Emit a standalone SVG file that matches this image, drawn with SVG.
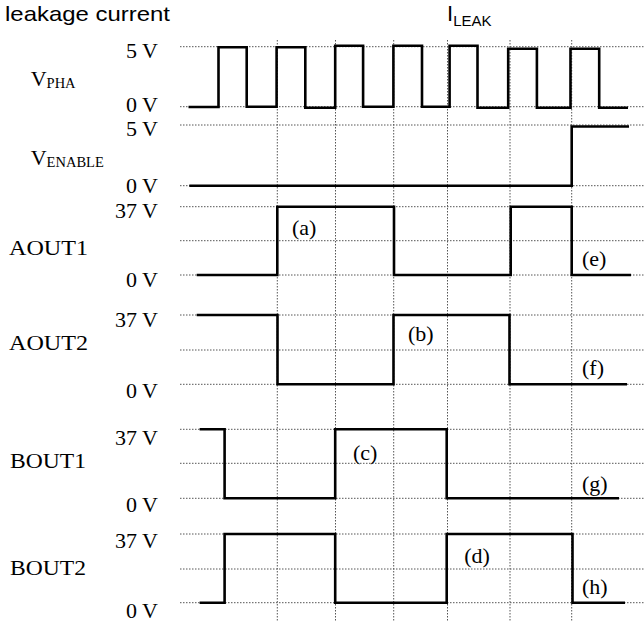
<svg xmlns="http://www.w3.org/2000/svg" width="644" height="622" viewBox="0 0 644 622">
<style>
.grid{stroke:#555;stroke-width:1;stroke-dasharray:1.5 1.5;fill:none}
.wave{stroke:#000;stroke-width:2.6;fill:none;stroke-linejoin:miter;stroke-linecap:butt}
.tm{font-family:"Liberation Serif","Times New Roman",serif;font-size:22px;fill:#000}
.lv{font-family:"Liberation Serif","Times New Roman",serif;font-size:22px;fill:#000;text-anchor:end}
.sub{font-family:"Liberation Serif","Times New Roman",serif;font-size:14.5px;fill:#000}
.ar{font-family:"Liberation Sans",Arial,sans-serif;fill:#000}
</style>
<rect width="644" height="622" fill="#fff"/>
<g id="grid">
<path class="grid" d="M180 46.7H644M180 106.7H644M180 125H644M180 185.7H644M180 206.7H644M180 240.7H644M180 275H644M180 315H644M180 350H644M180 384.3H644M180 429.3H644M180 463.3H644M180 498.3H644M180 534H644M180 569H644M180 602.7H644"/>
<path class="grid" d="M277.3 40V622M335.5 40V622M393.7 40V622M447.5 40V622M510 40V622M571.7 40V622"/>
</g>
<g id="header">
<text class="ar" x="5" y="21" font-size="21" textLength="165" lengthAdjust="spacingAndGlyphs">leakage current</text>
<text class="ar" x="447" y="20.7" font-size="22">I<tspan font-size="15" dy="5.3">LEAK</tspan></text>
</g>
<g id="vpha">
<text class="tm" x="30.7" y="86">V<tspan class="sub" dy="2">PHA</tspan></text>
<text class="lv" x="158" y="58">5 V</text>
<text class="lv" x="158" y="111.5" font-size="21">0 V</text>
<path class="wave" d="M188.5 107H218.5V47.3H246.7V106.7H276.6V47.3H305.3V107.7H335.2V45.7H363.1V106.7H393.4V45.7H422V106.7H449.6V45.7H477.5V107.7H508.2V48.7H536.9V107.7H570.5V48.7H599.2V107.7H628"/>
</g>
<g id="venable">
<text class="tm" x="30.7" y="165">V<tspan class="sub" dy="2">ENABLE</tspan></text>
<text class="lv" x="158" y="135.5" font-size="21">5 V</text>
<text class="lv" x="158" y="193">0 V</text>
<path class="wave" d="M189.3 185.7H571.7V126.5H629"/>
</g>
<g id="aout1">
<text class="tm" x="9" y="255" textLength="79" lengthAdjust="spacingAndGlyphs">AOUT1</text>
<text class="lv" x="158" y="218">37 V</text>
<text class="lv" x="158" y="287">0 V</text>
<path class="wave" d="M196.7 275H277.3V206.7H394V275H510.7V206.7H571.7V275H631"/>
<text class="tm" x="292" y="234.5">(a)</text>
<text class="tm" x="582" y="266">(e)</text>
</g>
<g id="aout2">
<text class="tm" x="9" y="349.5" textLength="79" lengthAdjust="spacingAndGlyphs">AOUT2</text>
<text class="lv" x="158" y="327">37 V</text>
<text class="lv" x="158" y="398">0 V</text>
<path class="wave" d="M196.7 315H277.5V384.3H393.5V315H509.5V384.3H627"/>
<text class="tm" x="408" y="341">(b)</text>
<text class="tm" x="582" y="375">(f)</text>
</g>
<g id="bout1">
<text class="tm" x="10" y="468" textLength="76" lengthAdjust="spacingAndGlyphs">BOUT1</text>
<text class="lv" x="158" y="445">37 V</text>
<text class="lv" x="158" y="511.7">0 V</text>
<path class="wave" d="M199.6 429.3H224.6V498.3H335.2V429.3H446.7V498.3H619"/>
<text class="tm" x="353" y="459.5">(c)</text>
<text class="tm" x="582" y="491">(g)</text>
</g>
<g id="bout2">
<text class="tm" x="10" y="575" textLength="76" lengthAdjust="spacingAndGlyphs">BOUT2</text>
<text class="lv" x="158" y="548">37 V</text>
<text class="lv" x="158" y="618">0 V</text>
<path class="wave" d="M199.6 602.7H224.6V534H335.2V602.7H446.7V534H572.5V602.7H625"/>
<text class="tm" x="464.3" y="563">(d)</text>
<text class="tm" x="582" y="594">(h)</text>
</g>
</svg>
